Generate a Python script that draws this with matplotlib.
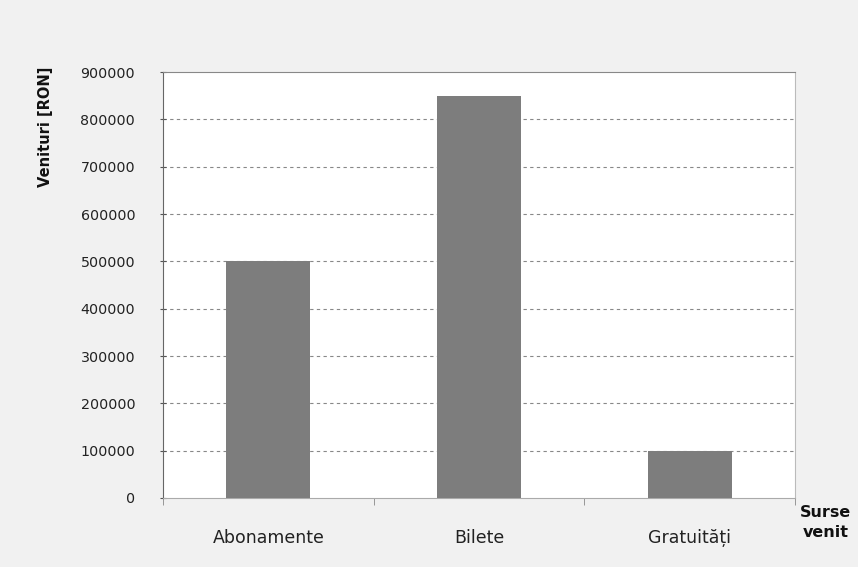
import matplotlib.pyplot as plt
import numpy as np

# revenue by source
surse = ["Abonamente", "Bilete", "Gratuități"]
venituri = [500000, 850000, 100000]
y_ticks = [0, 100000, 200000, 300000, 400000, 500000, 600000, 700000, 800000, 900000]

fig = plt.figure(figsize=(8.58, 5.67), dpi=100)
fig.patch.set_facecolor("#f1f1f1")
ax = fig.add_axes([0.19, 0.1217, 0.7366, 0.7513])
ax.set_facecolor("white")

x = np.arange(len(surse))
ax.bar(x, venituri, width=0.4, color="#7d7d7d", zorder=3)

ax.set_xlim(-0.5, len(surse) - 0.5)
ax.set_ylim(0, 900000)
ax.set_yticks(y_ticks)
ax.set_yticklabels([str(v) for v in y_ticks], fontsize=10.3, color="#222222")

# category labels sit between boundary ticks
ax.set_xticks(x)
ax.set_xticklabels(surse, fontsize=12.5, color="#222222")
ax.tick_params(axis="x", length=0, pad=22)
ax.set_xticks(np.arange(-0.5, len(surse)), minor=True)
ax.tick_params(axis="x", which="minor", length=5, direction="out", color="#888888")
ax.tick_params(axis="y", length=4, direction="inout", color="#555555", pad=18)

for v in y_ticks[1:-1]:
    ax.axhline(v, color="#888888", lw=0.8, ls=(0, (3, 3)), zorder=1)

ax.spines["right"].set_color("#bbbbbb")
ax.spines["top"].set_color("#888888")
ax.spines["left"].set_color("#666666")
ax.spines["bottom"].set_color("#aaaaaa")

fig.text(0.053, 0.882, "Venituri [RON]", rotation=90, ha="center", va="top",
         fontsize=10.5, fontweight="bold", color="#111111")
fig.text(0.962, 0.078, "Surse\nvenit", ha="center", va="center",
         fontsize=11.5, fontweight="bold", color="#111111", linespacing=1.4)

fig.savefig("out.png", dpi=100, facecolor=fig.get_facecolor())
